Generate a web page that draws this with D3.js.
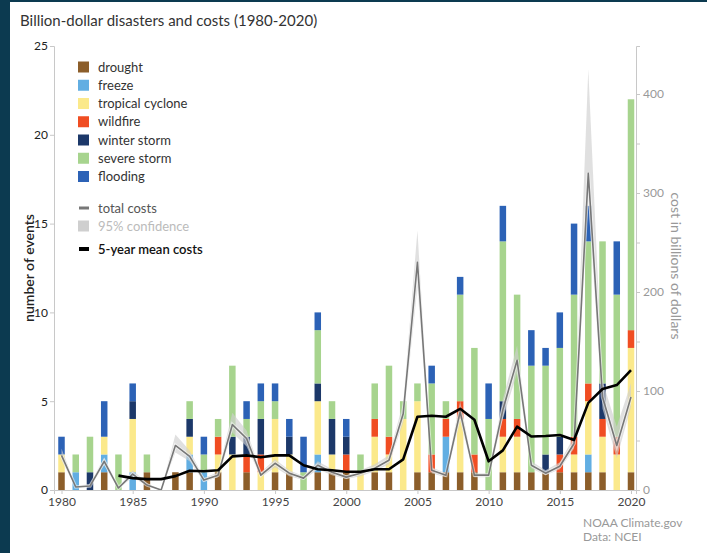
<!DOCTYPE html>
<html><head><meta charset="utf-8">
<script src="https://cdn.jsdelivr.net/npm/d3@7/dist/d3.min.js"></script>
<style>body{margin:0;padding:0;background:#0c3a50;} svg{display:block;} text{font-family:Lato,"Liberation Sans",sans-serif;}</style>
</head><body>
<svg id="chart" width="707" height="553"></svg>
<script>
const years = d3.range(1980, 2021);
const categories = ["drought","freeze","tropical cyclone","wildfire","winter storm","severe storm","flooding"];
const colors = ["#8c5e2a","#62aee2","#fbe98b","#f04d22","#1c3869","#a7d48e","#2c62b6"];
// counts per year 1980..2020
const drought       = [1,0,0,1,0,0,1,0,1,1, 0,1,0,1,0,1,1,0,1,1, 1,0,1,1,0,1,1,1,1,1, 0,1,1,1,1,1,1,1,1,0, 1];
const freeze        = [0,1,0,1,0,1,0,0,0,1, 1,0,0,0,0,0,0,0,1,0, 0,0,0,0,0,0,0,2,0,0, 0,0,0,0,0,0,0,1,0,0, 0];
const tropical      = [1,0,0,1,0,3,0,0,0,1, 0,1,2,0,1,3,1,0,3,1, 0,1,2,1,4,4,0,0,3,0, 0,2,2,0,0,0,1,3,2,2, 7];
const wildfire      = [0,0,0,0,0,0,0,0,0,0, 0,1,0,1,1,0,0,0,0,0, 1,0,1,1,0,0,1,1,1,1, 0,1,1,0,0,1,1,1,1,1, 1];
const winterStorm   = [0,0,1,0,0,1,0,0,0,1, 0,0,1,1,2,0,1,0,1,2, 1,0,0,0,0,0,0,0,0,0, 0,1,0,0,1,1,0,0,2,0, 0];
const severeStorm   = [0,1,2,0,2,0,1,0,0,1, 1,1,4,1,1,1,0,1,3,1, 0,1,2,4,1,1,4,1,6,6, 4,9,7,6,5,5,8,8,8,8, 13];
const flooding      = [1,0,0,2,0,1,0,0,0,0, 1,0,0,1,1,1,1,2,1,0, 1,0,0,0,0,0,1,0,1,0, 2,2,0,2,1,2,4,2,0,3, 0];
const seriesCounts = [drought, freeze, tropical, wildfire, winterStorm, severeStorm, flooding];
// costs, billions of dollars
const totalCost = [35,3,4,29,2,16,5,0,45,34, 10,15,66,52,15,27,17,12,25,18, 13,17,22,30,77,230,20,15,79,15, 15,81,131,25,17,24,47,320,94,45, 94];
const costLow   = [30,2,3,25,1,13,4,0,38,29, 8,13,58,44,13,23,14,10,21,15, 11,14,19,26,68,205,17,13,70,13, 13,72,118,22,15,21,42,292,82,32, 84];
const costHigh  = [42,4,6,33,3,20,7,0,56,40, 12,18,78,60,18,31,20,14,29,21, 15,20,26,35,88,262,23,17,90,17, 17,92,146,29,20,28,54,425,110,64, 108];
const meanYears = d3.range(1984, 2021);
const meanCost  = [14.5,12,11,11,14,19.5, 19,20,34,35,33,35,35,25,21,20, 18.5,18.5,21,21,31,74,75,74,82,71, 29,40,64,54,54.5,55.5,50.5,88,102,106, 121];
const leftTicks = [0,5,10,15,20,25];
const rightTicks = [0,100,200,300,400];
const xTickYears = [1980,1985,1990,1995,2000,2005,2010,2015,2020];

const svg = d3.select("#chart");
svg.append("rect").attr("width",707).attr("height",553).attr("fill","#0c3a50");
svg.append("rect").attr("x",10).attr("y",2).attr("width",697).attr("height",551).attr("fill","#fff");

const x = d3.scaleLinear().domain([1980,2020]).range([61.5,631]);
const y = d3.scaleLinear().domain([0,25]).range([490,46]);
const yR = d3.scaleLinear().domain([0,400]).range([490,94]);
const yRfull = yR.copy().domain([0, yR.invert(46)]).range([490,46]);
const barW = 6.5;

// stacked bars
const table = years.map((yr,i)=>{ const o={year:yr}; categories.forEach((c,k)=>o[c]=seriesCounts[k][i]); return o;});
const stack = d3.stack().keys(categories)(table);
const gBars = svg.append("g");
stack.forEach((layer,k)=>{
  gBars.selectAll(null).data(layer.filter(d=>d[1]>d[0])).enter().append("rect")
    .attr("x",d=>x(d.data.year)-barW/2).attr("width",barW)
    .attr("y",d=>y(d[1])).attr("height",d=>y(d[0])-y(d[1]))
    .attr("fill",colors[k]);
});

// confidence band
const band = d3.area().x((d,i)=>x(years[i])).y0((d,i)=>yR(costLow[i])).y1((d,i)=>yR(costHigh[i]));
svg.append("path").datum(years).attr("d",band).attr("fill","#cfcfcf").attr("opacity",0.65);
// total cost line
const line = d3.line().x((d,i)=>x(years[i])).y((d)=>yR(d));
svg.append("path").datum(totalCost).attr("d",line).attr("fill","none").attr("stroke","#fff").attr("stroke-width",3.5).attr("opacity",0.5);
svg.append("path").datum(totalCost).attr("d",line).attr("fill","none").attr("stroke","#777").attr("stroke-width",1.6).attr("stroke-linejoin","round");
// mean line
const mline = d3.line().x((d,i)=>x(meanYears[i])).y(d=>yR(d));
svg.append("path").datum(meanCost).attr("d",mline).attr("fill","none").attr("stroke","#000").attr("stroke-width",2.6).attr("stroke-linejoin","round");

// axes
const axisColor = "#c8c8c8";
const gL = svg.append("g").attr("transform","translate(54,0)")
  .call(d3.axisLeft(y).tickValues(leftTicks).tickSize(4).tickPadding(2));
gL.select(".domain").attr("stroke",axisColor);
gL.selectAll(".tick line").attr("stroke",axisColor);
gL.selectAll("text").attr("fill","#222").style("font-size","12px");

const gR = svg.append("g").attr("transform","translate(636,0)")
  .call(d3.axisRight(yRfull).tickValues(d3.range(0,401,50)).tickSize(4).tickPadding(3)
    .tickFormat(d=>rightTicks.includes(d)?d:""));
gR.select(".domain").attr("stroke",axisColor);
gR.selectAll(".tick line").attr("stroke",axisColor);
gR.selectAll("text").attr("fill","#999").style("font-size","12px");

const xAxisScale = x.copy().domain([x.invert(54), x.invert(636)]).range([54,636]);
const gX = svg.append("g").attr("transform","translate(0,490)")
  .call(d3.axisBottom(xAxisScale).tickValues(xTickYears).tickSize(4).tickPadding(3).tickFormat(d3.format("d")));
gX.select(".domain").attr("stroke",axisColor);
gX.selectAll(".tick line").attr("stroke",axisColor);
gX.selectAll("text").attr("fill","#444").style("font-size","12px");

// titles
svg.append("text").attr("x",20).attr("y",26).text("Billion-dollar disasters and costs (1980-2020)")
  .attr("fill","#333").style("font-size","15px");
svg.append("text").attr("transform","translate(34,268) rotate(-90)").attr("text-anchor","middle")
  .text("number of events").attr("fill","#222").style("font-size","14px").style("font-weight","600");
svg.append("text").attr("transform","translate(671,266) rotate(90)").attr("text-anchor","middle")
  .text("cost in billions of dollars").attr("fill","#999").style("font-size","14px");
svg.append("text").attr("x",583).attr("y",527).text("NOAA Climate.gov").attr("fill","#999").style("font-size","12px");
svg.append("text").attr("x",583).attr("y",541).text("Data: NCEI").attr("fill","#999").style("font-size","12px");

// legend
const leg = svg.append("g");
categories.forEach((c,k)=>{
  const cy = 67 + k*18.25;
  leg.append("rect").attr("x",78).attr("y",cy-5.5).attr("width",11).attr("height",11).attr("fill",colors[k]);
  leg.append("text").attr("x",98).attr("y",cy).attr("dy","0.35em").text(c).attr("fill","#333").style("font-size","13px");
});
leg.append("line").attr("x1",79).attr("x2",89).attr("y1",208).attr("y2",208).attr("stroke","#777").attr("stroke-width",3);
leg.append("text").attr("x",98).attr("y",208).attr("dy","0.35em").text("total costs").attr("fill","#555").style("font-size","13px");
leg.append("rect").attr("x",78).attr("y",220.5).attr("width",11).attr("height",11).attr("fill","#cfcfcf");
leg.append("text").attr("x",98).attr("y",226).attr("dy","0.35em").text("95% confidence").attr("fill","#bbb").style("font-size","13px");
leg.append("line").attr("x1",79).attr("x2",89).attr("y1",249).attr("y2",249).attr("stroke","#000").attr("stroke-width",4);
leg.append("text").attr("x",98).attr("y",249).attr("dy","0.35em").text("5-year mean costs").attr("fill","#111").style("font-size","13px").style("font-weight","600");
</script>
</body></html>
